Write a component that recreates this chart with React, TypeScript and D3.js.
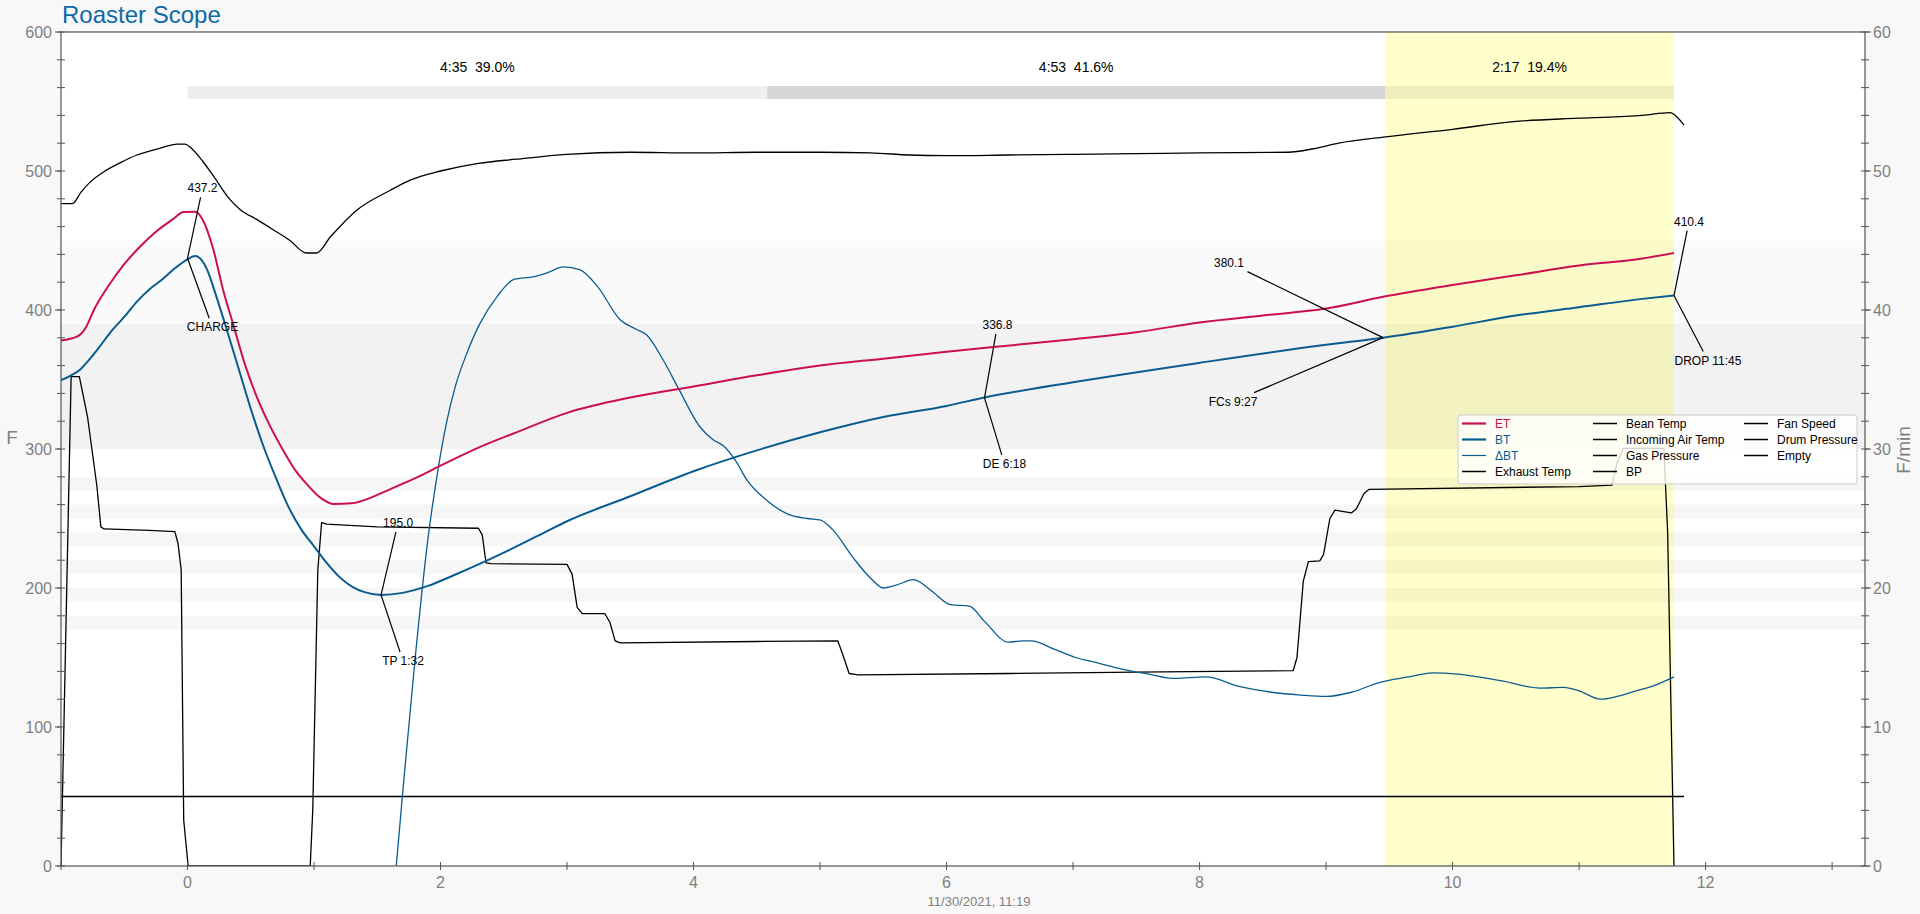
import React from 'react';
import * as d3 from 'd3';

// ---- data (time in minutes) ----
const etCurve: [number, number][] = [
    [-1, 378], [-0.87, 381], [-0.8, 388], [-0.74, 400], [-0.62, 418], [-0.5, 433], [-0.37, 446],
    [-0.24, 457], [-0.12, 465], [-0.03, 470.5], [0.06, 470.7], [0.12, 465], [0.2, 445], [0.28, 415],
    [0.36, 390], [0.45, 362], [0.55, 337], [0.65, 317], [0.75, 300], [0.85, 285], [0.95, 274],
    [1.05, 265], [1.15, 260.5], [1.3, 261], [1.45, 265], [1.6, 271], [1.8, 279], [2.0, 288],
    [2.3, 301], [2.6, 312], [3.0, 326], [3.5, 337], [4.0, 345], [4.5, 353], [5.0, 360], [5.5, 365],
    [6.0, 370], [6.5, 374.5], [7.0, 379], [7.5, 384], [8.0, 391], [8.5, 396], [9.0, 401], [9.45, 409.5],
    [10.0, 418], [10.5, 425], [11.0, 432], [11.5, 437], [11.75, 441],
];

const btCurve: [number, number][] = [
    [-1, 349.5], [-0.92, 353], [-0.85, 357], [-0.78, 364], [-0.7, 373], [-0.6, 385], [-0.5, 395],
    [-0.4, 406], [-0.3, 415], [-0.2, 422], [-0.1, 430], [0, 436.5], [0.06, 438.8], [0.11, 436],
    [0.16, 428], [0.22, 412], [0.3, 389], [0.4, 359], [0.5, 329], [0.6, 302], [0.7, 279], [0.8, 258],
    [0.9, 242], [1.0, 230], [1.1, 218], [1.2, 208], [1.3, 201], [1.4, 197], [1.53, 195], [1.7, 196.5],
    [1.9, 201.5], [2.1, 209], [2.3, 217], [2.5, 225.5], [2.8, 239], [3.0, 248], [3.5, 266], [4.0, 284],
    [4.5, 299], [5.0, 312], [5.5, 323], [6.0, 331], [6.3, 337], [7.0, 348], [8.0, 362], [9.0, 375],
    [9.45, 380.1], [10.0, 388], [10.5, 396], [11.0, 402], [11.5, 408], [11.75, 410.4],
];

const rorCurve: [number, number][] = [
    [1.65, 0], [1.71, 6.2], [1.8, 15], [1.9, 23.5], [1.98, 28.5], [2.05, 32], [2.12, 34.6], [2.2, 36.7],
    [2.31, 39.0], [2.45, 41.0], [2.58, 42.2], [2.74, 42.4], [2.85, 42.7], [2.97, 43.1], [3.1, 42.9],
    [3.24, 41.7], [3.42, 39.3], [3.55, 38.6], [3.63, 38.2], [3.76, 36.4], [3.89, 34.2], [4.05, 31.6],
    [4.15, 30.7], [4.24, 30.2], [4.33, 29.2], [4.42, 27.8], [4.58, 26.3], [4.75, 25.3], [4.9, 25.0],
    [5.0, 24.9], [5.1, 24.2], [5.26, 22.2], [5.4, 20.7], [5.5, 20.0], [5.6, 20.2], [5.74, 20.6],
    [5.88, 19.8], [6.03, 18.8], [6.18, 18.7], [6.3, 17.6], [6.49, 16.1], [6.6, 16.2], [6.67, 16.2],
    [6.85, 15.6], [7.02, 15.0], [7.2, 14.6], [7.37, 14.2], [7.6, 13.8], [7.8, 13.5], [8.05, 13.6],
    [8.32, 12.9], [8.57, 12.5], [8.8, 12.3], [9.0, 12.2], [9.2, 12.5], [9.42, 13.2], [9.65, 13.6],
    [9.84, 13.9], [10.04, 13.8], [10.2, 13.6], [10.4, 13.3], [10.69, 12.8], [10.88, 12.85], [11.0, 12.6],
    [11.17, 12.0], [11.3, 12.2], [11.45, 12.6], [11.6, 13.0], [11.75, 13.6],
];

const exhaustCurve: [number, number][] = [
    [-1, 476.5], [-0.91, 476.5], [-0.84, 485], [-0.77, 492], [-0.66, 499.5], [-0.53, 506], [-0.4, 511.5],
    [-0.22, 516.3], [-0.08, 519.4], [-0.02, 519.4], [0.035, 516], [0.12, 507], [0.2, 497], [0.34, 479],
    [0.42, 472], [0.55, 465], [0.68, 457.6], [0.81, 450], [0.94, 441], [1.02, 441], [1.13, 452.7],
    [1.34, 472], [1.6, 486], [1.76, 493.5], [2.0, 500], [2.3, 505.5], [2.6, 508.5], [3.0, 512],
    [3.5, 513.5], [4.0, 513], [4.5, 513.5], [5.0, 513.5], [5.4, 513], [5.7, 511.5], [6.0, 511],
    [6.5, 511.5], [7.0, 512], [7.5, 512.5], [8.0, 513], [8.7, 513.5], [8.9, 516], [9.1, 520],
    [9.47, 524.5], [10.0, 530], [10.48, 535.5], [11.0, 538], [11.5, 540], [11.72, 542], [11.76, 540],
    [11.83, 533],
];

const auxCurve: [number, number][] = [
    [-1, 0], [-0.92, 352], [-0.855, 352], [-0.79, 323], [-0.716, 273], [-0.685, 244], [-0.66, 242.5],
    [-0.3, 241.5], [-0.1, 240.5], [-0.075, 232], [-0.05, 213], [-0.03, 33], [0.005, 0], [0.97, 0],
    [0.99, 40], [1.03, 213], [1.06, 247], [1.1, 246], [1.5, 244], [2.3, 243], [2.33, 238], [2.36, 218],
    [2.4, 217.5], [3.0, 217], [3.04, 210], [3.08, 186], [3.12, 181.5], [3.3, 181.5], [3.34, 175],
    [3.38, 162], [3.42, 160.5], [4.5, 161.5], [5.14, 162], [5.18, 152], [5.23, 138.5], [5.3, 137.5],
    [6.5, 138.5], [7.5, 139.5], [8.74, 140.5], [8.77, 150], [8.82, 205], [8.86, 219], [8.95, 219.5],
    [8.98, 224], [9.03, 250], [9.07, 256], [9.2, 254], [9.24, 257], [9.3, 268], [9.34, 271],
    [11.0, 273], [11.26, 274], [11.3, 290], [11.35, 300.5], [11.67, 300.5], [11.7, 240], [11.75, 0],
];

const levelCurve: [number, number][] = [[-1, 50], [11.83, 50]];

const eventNames = ['CHARGE', 'TP 1:32', 'DE 6:18', 'FCs 9:27', 'DROP 11:45'];
const eventTimes = [0, 1.53, 6.3, 9.45, 11.75];
const eventTemps = [437.2, 195.0, 336.8, 380.1, 410.4];

const phaseStarts = [0, 4.583, 9.467];
const phaseEnds = [4.583, 9.467, 11.75];
const phaseLabels = ['4:35  39.0%', '4:53  41.6%', '2:17  19.4%'];

const bandRanges: [number, number][] = [[390, 450], [300, 390]];
const stripeRanges: [number, number][] = [[270, 280], [250, 260], [230, 240], [210, 220], [190, 200], [170, 180]];

const legendCols: string[][] = [
    ['ET', 'BT', 'ΔBT', 'Exhaust Temp'],
    ['Bean Temp', 'Incoming Air Temp', 'Gas Pressure', 'BP'],
    ['Fan Speed', 'Drum Pressure', 'Empty'],
];

const ET_COLOR = '#cc0f50';
const BT_COLOR = '#0a5c90';
const FONT = '"Liberation Sans", Arial, sans-serif';

const W = 1920;
const H = 914;
const L = 61, R = 1865, T = 32, B = 866;

const x = d3.scaleLinear().domain([-1, 13.26]).range([L, R]);
const y = d3.scaleLinear().domain([0, 600]).range([B, T]);
const y2 = d3.scaleLinear().domain([0, 60]).range([B, T]);

const smooth = d3.line<[number, number]>().x(d => x(d[0])).y(d => y(d[1])).curve(d3.curveMonotoneX);
const straight = d3.line<[number, number]>().x(d => x(d[0])).y(d => y(d[1]));
const smoothRor = d3.line<[number, number]>().x(d => x(d[0])).y(d => y2(d[1])).curve(d3.curveMonotoneX);

// label offsets in px relative to the event point: [valueDx, valueDy, nameDx, nameDy]
const labelOffsets = [
    [15, -70, 25, 69],
    [17, -72, 22, 66],
    [13, -73, 20, 66],
    [-154, -75, -150, 64],
    [15, -74, 34, 65],
];

// stop the leader line short of a label box
const clipTo = (px: number, py: number, cx: number, cy: number, hw: number, hh: number) => {
    const dx = px - cx, dy = py - cy;
    const t = Math.min(hw / Math.abs(dx || 1e-6), hh / Math.abs(dy || 1e-6));
    return [cx + dx * t, cy + dy * t];
};

const App: React.FC = () => {
    const xMajor = d3.range(0, 13, 2);
    const xMinor = d3.range(-1, 14, 1);
    const yMajor = d3.range(0, 601, 100);
    const yMinor = d3.range(0, 601, 20);
    const y2Major = d3.range(0, 61, 10);

    return (
        <>
            <style>{`body{margin:0;background:#f8f8f8}`}</style>
            <svg width={W} height={H} style={{ display: 'block', background: '#f8f8f8', fontFamily: FONT }}>
                <defs>
                    <clipPath id="plot">
                        <rect x={L} y={T} width={R - L} height={B - T} />
                    </clipPath>
                </defs>

                <text x={62} y={23} fontSize={24} fill="#0c6aa6">Roaster Scope</text>

                <rect x={L} y={T} width={R - L} height={B - T} fill="#ffffff" />

                {/* finishing phase highlight */}
                <rect x={x(phaseStarts[2])} y={T} width={x(phaseEnds[2]) - x(phaseStarts[2])} height={B - T} fill="#ffffcc" />

                {bandRanges.map(([lo, hi], i) => (
                    <rect key={'b' + i} x={L} y={y(hi)} width={R - L} height={y(lo) - y(hi)}
                        fill="#000" fillOpacity={i === 0 ? 0.02 : 0.05} />
                ))}
                {stripeRanges.map(([lo, hi], i) => (
                    <rect key={'s' + i} x={L} y={y(hi)} width={R - L} height={y(lo) - y(hi)}
                        fill="#000" fillOpacity={0.035} />
                ))}

                {/* phase bars */}
                {phaseStarts.map((s, i) => (
                    <g key={'p' + i}>
                        <rect x={x(s)} y={86} width={x(phaseEnds[i]) - x(s)} height={13}
                            fill="#000" fillOpacity={i === 1 ? 0.16 : 0.065} />
                        <text x={(x(s) + x(phaseEnds[i])) / 2} y={72} fontSize={14} textAnchor="middle"
                            style={{ whiteSpace: 'pre' }}>{phaseLabels[i]}</text>
                    </g>
                ))}

                <g clipPath="url(#plot)" fill="none">
                    <path d={straight(levelCurve) || ''} stroke="#000" strokeWidth={1.3} />
                    <path d={straight(auxCurve) || ''} stroke="#000" strokeWidth={1.3} strokeLinejoin="round" />
                    <path d={smooth(exhaustCurve) || ''} stroke="#000" strokeWidth={1.3} />
                    <path d={smoothRor(rorCurve) || ''} stroke={BT_COLOR} strokeWidth={1.3} />
                    <path d={smooth(etCurve) || ''} stroke={ET_COLOR} strokeWidth={2} />
                    <path d={smooth(btCurve) || ''} stroke={BT_COLOR} strokeWidth={2} />
                </g>

                {/* event annotations */}
                {eventNames.map((name, i) => {
                    const px = x(eventTimes[i]);
                    const py = y(eventTemps[i]);
                    const [vdx, vdy, ndx, ndy] = labelOffsets[i];
                    const valText = eventTemps[i].toFixed(1);
                    const vcx = px + vdx, vcy = py + vdy;
                    const ncx = px + ndx, ncy = py + ndy;
                    const [v1x, v1y] = clipTo(px, py, vcx, vcy, valText.length * 3.4 + 2, 9);
                    const [n1x, n1y] = clipTo(px, py, ncx, ncy, name.length * 3.6 + 2, 9);
                    return (
                        <g key={'e' + i}>
                            <line x1={px} y1={py} x2={v1x} y2={v1y} stroke="#000" strokeWidth={1.2} />
                            <line x1={px} y1={py} x2={n1x} y2={n1y} stroke="#000" strokeWidth={1.2} />
                            <text x={vcx} y={vcy} dy="0.35em" fontSize={12} textAnchor="middle">{valText}</text>
                            <text x={ncx} y={ncy} dy="0.35em" fontSize={12} textAnchor="middle">{name}</text>
                        </g>
                    );
                })}

                {/* frame */}
                <rect x={L} y={T} width={R - L} height={B - T} fill="none" stroke="#555" strokeWidth={1.2} />

                {/* x axis */}
                {xMinor.map(v => (
                    <line key={'xm' + v} x1={x(v)} x2={x(v)} y1={B - 4} y2={B + 4} stroke="#555" />
                ))}
                {xMajor.map(v => (
                    <text key={'xl' + v} x={x(v)} y={B + 22} fontSize={16} fill="#808080" textAnchor="middle">{v}</text>
                ))}

                {/* left axis */}
                {yMinor.map(v => (
                    <line key={'ym' + v} x1={L - 4} x2={L + 4} y1={y(v)} y2={y(v)} stroke="#555" />
                ))}
                {yMajor.map(v => (
                    <g key={'yl' + v}>
                        <line x1={L - 6} x2={L} y1={y(v)} y2={y(v)} stroke="#555" />
                        <text x={L - 9} y={y(v)} dy="0.35em" fontSize={16} fill="#808080" textAnchor="end">{v}</text>
                    </g>
                ))}
                <text x={12} y={437} dy="0.35em" fontSize={19} fill="#808080" textAnchor="middle">F</text>

                {/* right axis */}
                {yMinor.map(v => (
                    <line key={'rm' + v} x1={R - 4} x2={R + 4} y1={y(v)} y2={y(v)} stroke="#555" />
                ))}
                {y2Major.map(v => (
                    <g key={'rl' + v}>
                        <line x1={R} x2={R + 6} y1={y2(v)} y2={y2(v)} stroke="#555" />
                        <text x={R + 8} y={y2(v)} dy="0.35em" fontSize={16} fill="#808080">{v}</text>
                    </g>
                ))}
                <text transform="translate(1903,450) rotate(-90)" dy="0.35em" fontSize={19} fill="#808080" textAnchor="middle">F/min</text>

                <text x={979} y={906} fontSize={13} fill="#808080" textAnchor="middle">11/30/2021, 11:19</text>

                {/* legend */}
                <g>
                    <rect x={1458} y={415} width={399} height={69} rx={3} fill="#ffffff" fillOpacity={0.82} stroke="#cccccc" />
                    {legendCols.map((col, ci) => {
                        const lx = [1462, 1593, 1744][ci];
                        return col.map((name, ri) => {
                            const ry = 423.5 + ri * 16;
                            const color = ci === 0 && ri === 0 ? ET_COLOR : ci === 0 && ri < 3 ? BT_COLOR : '#000';
                            const sw = ci === 0 && ri < 2 ? 2.2 : ci === 0 && ri === 2 ? 1.2 : 1.5;
                            return (
                                <g key={name}>
                                    <line x1={lx} x2={lx + 24} y1={ry} y2={ry} stroke={color} strokeWidth={sw} />
                                    <text x={lx + 33} y={ry} dy="0.35em" fontSize={12} fill={color}>{name}</text>
                                </g>
                            );
                        });
                    })}
                </g>
            </svg>
        </>
    );
};

export default App;
